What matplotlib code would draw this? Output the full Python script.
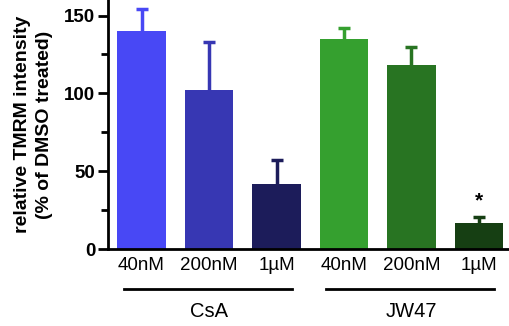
import matplotlib
matplotlib.use("Agg")
import matplotlib.pyplot as plt
import matplotlib.transforms as mtransforms

plt.rcParams['font.family'] = ['Liberation Sans', 'DejaVu Sans']

# data
labels = ['40nM', '200nM', '1µM', '40nM', '200nM', '1µM']
means = [140, 102, 42, 135, 118, 17]
sem = [14, 31, 15, 7, 12, 3.5]
colors = ['#4848f5', '#3737b3', '#1c1c5a', '#35a02f', '#287422', '#163f13']
groups = ['CsA', 'JW47']
group_idx = [[0, 1, 2], [3, 4, 5]]
star_idx = 5

fig = plt.figure(figsize=(5.1, 3.26), dpi=100)
ax = fig.add_axes([108 / 510, 1 - 249 / 326, 1 - 108 / 510, 249 / 326])

x = list(range(len(means)))
ax.bar(x, means, width=0.72, color=colors, zorder=2)
# upper error bars only
for xi, m, e, c in zip(x, means, sem, colors):
    ax.vlines(xi, m, m + e, color=c, lw=2.5, zorder=1)
    ax.plot([xi], [m + e], marker='_', ms=9, mew=2.5, color=c, zorder=1)

ax.text(x[star_idx], means[star_idx] + sem[star_idx] + 4, '*',
        ha='center', va='bottom', fontsize=15, fontweight='bold')

ax.set_xlim(-0.497, 5.46)
ax.set_ylim(0, 160)
ax.set_yticks([0, 50, 100, 150])
ax.set_yticks([25, 75, 125], minor=True)
ax.set_yticklabels(['0', '50', '100', '150'], fontsize=13.5, fontweight='bold')
ax.set_xticks(x)
ax.set_xticklabels(labels, fontsize=13.5)
ax.tick_params(axis='x', length=0, pad=6)
ax.tick_params(axis='y', which='major', length=7, width=2, pad=2)
ax.tick_params(axis='y', which='minor', length=5, width=2)
for s in ['top', 'right']:
    ax.spines[s].set_visible(False)
for s in ['left', 'bottom']:
    ax.spines[s].set_linewidth(2)

ax.set_ylabel('relative TMRM intensity\n(% of DMSO treated)', fontsize=14,
              fontweight='bold', labelpad=8, linespacing=1.4)

trans = mtransforms.blended_transform_factory(ax.transData, ax.transAxes)
for name, idx in zip(groups, group_idx):
    x0 = idx[0] - 0.26
    x1 = idx[-1] + 0.23
    ax.plot([x0, x1], [-0.161, -0.161], color='black', lw=2,
            transform=trans, clip_on=False)
    ax.text((idx[0] + idx[-1]) / 2, -0.25, name, ha='center', va='center',
            fontsize=14.5, transform=trans)

fig.savefig('out.png', dpi=100)
